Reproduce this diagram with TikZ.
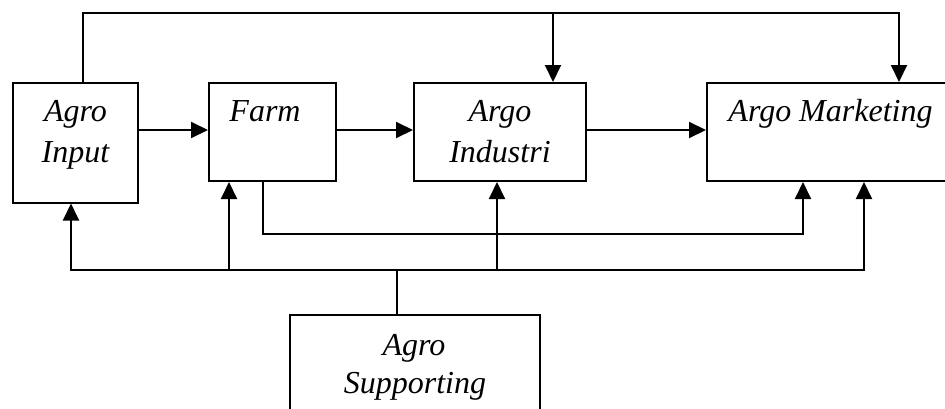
\documentclass[tikz,border=0pt]{standalone}
\usepackage{fontspec}
\setmainfont{Liberation Serif}
\usetikzlibrary{arrows.meta}
\begin{document}
\begin{tikzpicture}[x=1pt,y=-1pt,
  box/.style={draw, line width=2pt, rectangle, inner sep=0pt},
  lbl/.style={anchor=base, inner sep=0pt, font=\fontsize{32}{38}\selectfont\itshape},
  conn/.style={line width=2pt},
  arr/.style={line width=2pt, -{Triangle[length=17pt,width=16pt]}},
  thin/.style={line width=1.2pt}]
\useasboundingbox (0,0) rectangle (945,408);
% boxes
\node[box, minimum width=125pt, minimum height=120pt] (input) at (75.5,142.5) {};
\node[box, minimum width=127pt, minimum height=98pt] (farm) at (272.5,132) {};
\node[box, minimum width=172pt, minimum height=98pt] (ind) at (500,132) {};
\node[box, minimum width=243pt, minimum height=98pt] (mkt) at (828.5,132) {};
\node[box, minimum width=250pt, minimum height=100pt] (sup) at (415,365) {};
% labels
\node[lbl] (inputA) at (75.5,121) {Agro};
\node[lbl] (inputB) at (75.5,162) {Input};
\node[lbl] (farmA) at (265,121) {Farm};
\node[lbl] (indA) at (500,121) {Argo};
\node[lbl] (indB) at (500,162) {Industri};
\node[lbl] (mktA) at (830.5,121) {Argo Marketing};
\node[lbl] (supA) at (414,355) {Agro};
\node[lbl] (supB) at (415,393) {Supporting};
% coordinates
\coordinate (h) at (0,130);
\coordinate (t1) at (83,13);
\coordinate (t2) at (553,13);
\coordinate (t3) at (899,13);
\coordinate (bus) at (397,270);
\coordinate (b1) at (71,270);
\coordinate (b2) at (229,270);
\coordinate (b3) at (497,270);
\coordinate (b4) at (864,270);
\coordinate (f1) at (263,234);
\coordinate (f2) at (803,234);
% horizontal flow
\draw[arr] (input.east |- h) -- (farm.west |- h);
\draw[arr] (farm.east |- h) -- (ind.west |- h);
\draw[arr] (ind.east |- h) -- (mkt.west |- h);
% top feed
\draw[arr] (input.north -| t1) -- (t1) -- (t3) -- (mkt.north -| t3);
\draw[arr] (t2) -- (ind.north -| t2);
% supporting bus
\draw[thin] (sup.north -| bus) -- (bus);
\draw[arr] (bus) -- (b1) -- (input.south -| b1);
\draw[arr] (bus) -- (b4) -- (mkt.south -| b4);
\draw[arr] (b2) -- (farm.south -| b2);
\draw[arr] (b3) -- (ind.south -| b3);
% farm to marketing
\draw[arr] (farm.south -| f1) -- (f1) -- (f2) -- (mkt.south -| f2);
\end{tikzpicture}
\end{document}
